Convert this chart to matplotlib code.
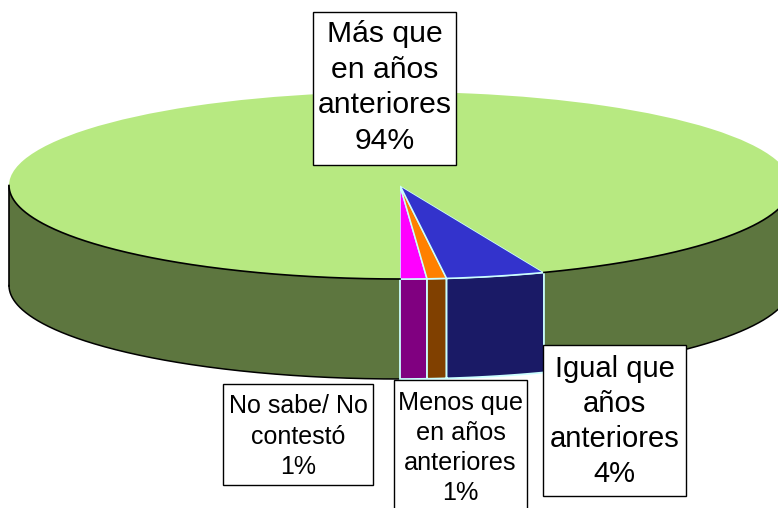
import numpy as np
import matplotlib
matplotlib.use('Agg')
import matplotlib.pyplot as plt
from matplotlib.patches import Rectangle

plt.rcParams['font.family'] = ['Liberation Sans', 'DejaVu Sans']

shares = [1.1, 0.8, 4.1, 94.0]
top_colors = ['#ff00ff', '#ff8000', '#3333cc', '#b7e981']
side_colors = ['#800080', '#804000', '#1a1a66', '#5d763f']
edge_colors = ['#ccffff', '#ccffff', '#ccffff', 'black']

label_texts = ['No sabe/ No\ncontestó\n1%',
               'Menos que\nen años\nanteriores\n1%',
               'Igual que\naños\nanteriores\n4%',
               'Más que\nen años\nanteriores\n94%']
label_sizes = [18, 18.2, 21, 21.7]
label_spacing = [1.33, 1.32, 1.33, 1.35]
label_boxes = [(223, 384, 373, 485), (394, 380, 527, 512),
               (543, 345, 686, 496), (313, 12, 456, 165)]
label_shift = [2, 2, 1, -1]  # text offset down, pixels

W, H = 778, 508
CX, CY, RX, RY, DEPTH = 400.0, 185.5, 391.0, 93.5, 100.0


def px(x, y):
    # pixel position -> unit ellipse coordinates
    return (np.asarray(x) - CX) / RX, (CY - np.asarray(y)) / RY


fig = plt.figure(figsize=(W / 100, H / 100), dpi=100)
ax = fig.add_axes([0, 0, 1, 1])

wedges, _ = ax.pie(shares, colors=top_colors, startangle=-90, counterclock=True,
                   radius=1, center=(0, 0),
                   wedgeprops=dict(linewidth=1.1, zorder=5))
for w, e in zip(wedges, edge_colors):
    w.set_edgecolor(e)
wedges[-1].set_edgecolor('none')

ax.set_aspect('auto')
x0, _ = px(0, 0)
x1, _ = px(W, 0)
_, y0 = px(0, H)
_, y1 = px(0, 0)
ax.set_xlim(x0, x1)
ax.set_ylim(y0, y1)
ax.axis('off')

depth = DEPTH / RY
edges = -90 + np.concatenate([[0], np.cumsum(shares)]) * 3.6


def wall(a0, a1, color, edge, lw, z):
    # front wall between two angles; only the part facing the viewer is visible
    a0, a1 = max(a0, -180), min(a1, 0)
    t = np.radians(np.linspace(a0, a1, 300))
    xs = np.cos(t)
    ys = np.sin(t)
    ax.fill(np.r_[xs, xs[::-1]], np.r_[ys, ys[::-1] - depth],
            facecolor=color, edgecolor=edge, linewidth=lw, zorder=z)


# green wall wraps round both sides of the coloured slices
wall(edges[3], 360, side_colors[3], 'none', 0, 2)
wall(-180, edges[0], side_colors[3], 'none', 0, 2)
for a, b in [(edges[3], 0), (-180, edges[0])]:
    t = np.radians(np.linspace(a, b, 300))
    ax.plot(np.cos(t), np.sin(t), color='black', lw=1.2, zorder=6)
    ax.plot(np.cos(t), np.sin(t) - depth, color='black', lw=1.1, zorder=3)
ax.plot([-1, -1], [0, -depth], color='black', lw=1.2, zorder=3)
for i in range(3):
    wall(edges[i], edges[i + 1], side_colors[i], edge_colors[i], 1.3, 4)

for txt, size, sp, box, dy in zip(label_texts, label_sizes, label_spacing, label_boxes, label_shift):
    bx0, by0 = px(box[0], box[3])
    bx1, by1 = px(box[2], box[1])
    ax.add_patch(Rectangle((bx0, by0), bx1 - bx0, by1 - by0, facecolor='white',
                           edgecolor='black', linewidth=1.0, zorder=8, clip_on=True))
    ax.text((bx0 + bx1) / 2, (by0 + by1) / 2 - dy / RY, txt, ha='center', va='center',
            fontsize=size, linespacing=sp, color='black', zorder=9)

fig.savefig('out.png', dpi=100, facecolor='white')
